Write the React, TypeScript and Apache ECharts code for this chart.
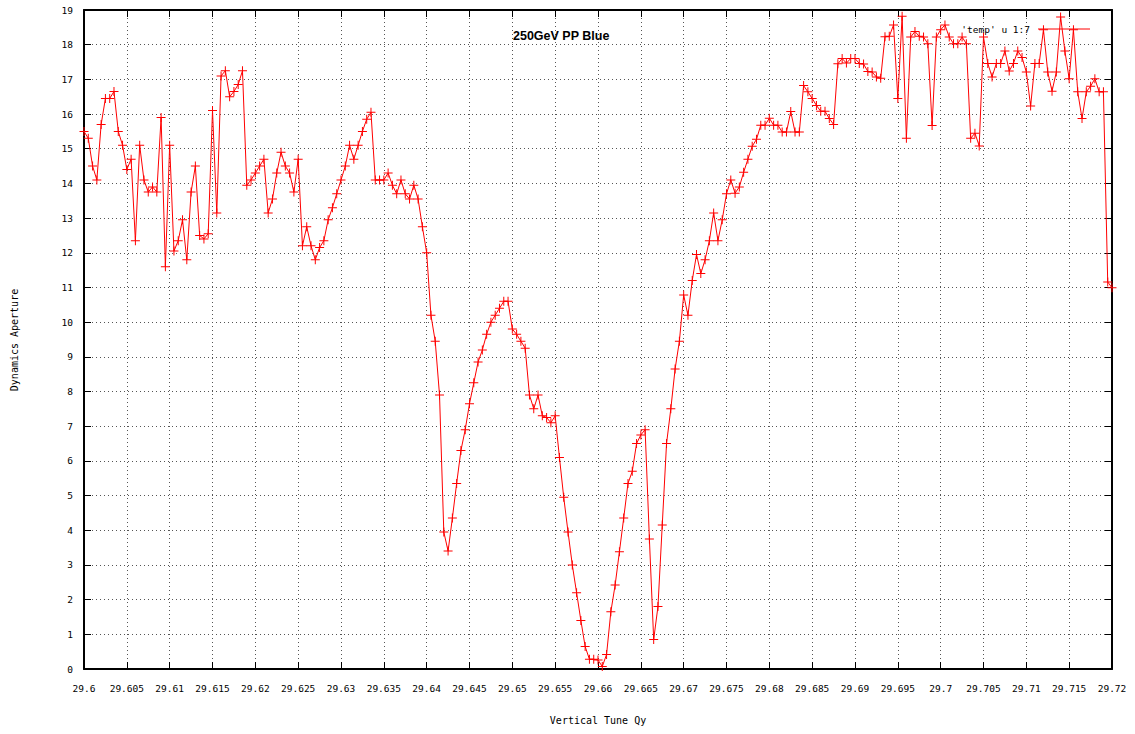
import React, { useEffect, useRef } from "react";
import * as echarts from "echarts";

const tuneStart = 29.6;
const tuneStep = 0.0005;
const xTickInterval = 0.005;
const yTickInterval = 1;

// Dynamics aperture values, one per tune step from 29.6 to 29.72
const aperture = [
  15.5, 15.3, 14.5, 14.1, 15.7, 16.45, 16.45, 16.65, 15.5, 15.1,
  14.4, 14.7, 12.35, 15.1, 14.1, 13.75, 13.9, 13.75, 15.9, 11.6,
  15.1, 12.05, 12.35, 12.95, 11.8, 13.75, 14.5, 12.5, 12.4, 12.55,
  16.1, 13.15, 17.1, 17.25, 16.5, 16.65, 16.85, 17.25, 13.95, 14.1,
  14.3, 14.5, 14.7, 13.15, 13.55, 14.3, 14.9, 14.5, 14.3, 13.75,
  14.7, 12.2, 12.75, 12.2, 11.8, 12.15, 12.35, 12.95, 13.3, 13.7,
  14.1, 14.5, 15.1, 14.7, 15.1, 15.5, 15.85, 16.05, 14.1, 14.1,
  14.1, 14.3, 13.95, 13.7, 14.1, 13.7, 13.55, 13.95, 13.55, 12.75,
  12.0, 10.2, 9.45, 7.9, 3.95, 3.4, 4.35, 5.35, 6.3, 6.9,
  7.65, 8.25, 8.85, 9.2, 9.65, 10.0, 10.2, 10.4, 10.6, 10.6,
  9.8, 9.65, 9.45, 9.25, 7.9, 7.5, 7.9, 7.3, 7.25, 7.1,
  7.3, 6.1, 4.95, 3.95, 3.0, 2.2, 1.4, 0.65, 0.28, 0.28,
  0.26, 0.07, 0.42, 1.65, 2.42, 3.38, 4.35, 5.35, 5.7, 6.5,
  6.75, 6.9, 3.75, 0.85, 1.8, 4.15, 6.5, 7.5, 8.65, 9.45,
  10.78, 10.2, 11.2, 11.95, 11.4, 11.8, 12.35, 13.15, 12.35, 12.95,
  13.7, 14.1, 13.72, 13.9, 14.32, 14.7, 15.07, 15.27, 15.68, 15.68,
  15.88, 15.68, 15.68, 15.48, 15.48, 16.07, 15.48, 15.48, 16.82, 16.64,
  16.45, 16.25, 16.08, 16.08, 15.87, 15.7, 17.45, 17.6, 17.47, 17.6,
  17.6, 17.46, 17.44, 17.23, 17.21, 17.07, 17.03, 18.23, 18.24, 18.57,
  16.45, 18.82, 15.3, 18.22, 18.38, 18.24, 18.22, 18.03, 15.67, 18.22,
  18.43, 18.57, 18.22, 18.03, 18.03, 18.22, 18.03, 15.3, 15.45, 15.08,
  18.22, 17.46, 17.07, 17.46, 17.46, 17.82, 17.24, 17.46, 17.82, 17.63,
  17.21, 16.23, 17.46, 17.46, 18.43, 17.21, 16.66, 17.21, 18.8, 17.82,
  17.02, 18.43, 16.64, 15.87, 16.64, 16.8, 17.02, 16.64, 16.64, 11.16,
  10.99,
];

const chartTitle = "250GeV PP Blue";
const legendLabel = "'temp' u 1:7";
const xTitle = "Vertical Tune Qy";
const yTitle = "Dynamics Aperture";

const MONO = "'DejaVu Sans Mono', 'Liberation Mono', monospace";
const PLUS = "path://M4,0H5V4H9V5H5V9H4V5H0V4H4Z";

export default function App() {
  const ref = useRef<HTMLDivElement>(null);

  useEffect(() => {
    if (!ref.current) return;
    const chart = echarts.init(ref.current, undefined, { renderer: "svg" });
    const data = aperture.map((v, i) => [tuneStart + i * tuneStep, v]);
    const fmtX = (v: number) => String(+v.toFixed(3));
    const axisLine = { show: true, onZero: false, lineStyle: { color: "#000", width: 2 } };
    const tick = { show: true, inside: true, length: 7, lineStyle: { color: "#000", width: 1 } };
    const split = { show: true, lineStyle: { color: "#555", width: 1, type: [1, 3] as any } };

    chart.setOption({
      animation: false,
      backgroundColor: "#fff",
      grid: { left: 84, right: 23, top: 10, bottom: 65, show: false },
      xAxis: [
        {
          type: "value",
          min: 29.6,
          max: 29.72,
          interval: xTickInterval,
          position: "bottom",
          axisLine,
          axisTick: tick,
          splitLine: split,
          axisLabel: {
            margin: 14,
            color: "#000",
            fontFamily: MONO,
            fontSize: 9.5,
            formatter: fmtX,
          },
        },
        {
          type: "value",
          min: 29.6,
          max: 29.72,
          interval: xTickInterval,
          position: "top",
          axisLine,
          axisTick: tick,
          splitLine: { show: false },
          axisLabel: { show: false },
        },
      ],
      yAxis: [
        {
          type: "value",
          min: 0,
          max: 19,
          interval: yTickInterval,
          position: "left",
          axisLine,
          axisTick: tick,
          splitLine: split,
          axisLabel: { margin: 11, color: "#000", fontFamily: MONO, fontSize: 9.5 },
        },
        {
          type: "value",
          min: 0,
          max: 19,
          interval: yTickInterval,
          position: "right",
          axisLine,
          axisTick: tick,
          splitLine: { show: false },
          axisLabel: { show: false },
        },
      ],
      series: [
        {
          type: "line",
          name: legendLabel,
          xAxisIndex: 0,
          yAxisIndex: 0,
          data,
          symbol: PLUS,
          symbolSize: 9,
          showSymbol: true,
          lineStyle: { color: "#ff0000", width: 1 },
          itemStyle: { color: "#ff0000" },
          z: 5,
        },
      ],
      graphic: [
        {
          type: "text",
          left: 513,
          top: 29,
          style: {
            text: chartTitle,
            font: "bold 12.5px 'Liberation Sans', Arial, sans-serif",
            fill: "#000",
          },
          z: 10,
        },
        {
          type: "text",
          x: 1030,
          y: 29,
          style: {
            text: legendLabel,
            font: `9.5px ${MONO}`,
            fill: "#000",
            align: "right",
            verticalAlign: "middle",
          },
          z: 10,
        },
        {
          type: "line",
          shape: { x1: 1038, y1: 29, x2: 1090, y2: 29 },
          style: { stroke: "#ff0000", lineWidth: 1 },
          z: 10,
        },
        {
          type: "text",
          x: 598,
          y: 720,
          style: {
            text: xTitle,
            font: `10px ${MONO}`,
            fill: "#000",
            align: "center",
            verticalAlign: "middle",
          },
        },
        {
          type: "text",
          x: 14,
          y: 340,
          rotation: Math.PI / 2,
          style: {
            text: yTitle,
            font: `10px ${MONO}`,
            fill: "#000",
            align: "center",
            verticalAlign: "middle",
          },
        },
      ],
    });
    return () => chart.dispose();
  }, []);

  return (
    <div
      ref={ref}
      style={{ position: "absolute", left: 0, top: 0, width: 1135, height: 734 }}
    />
  );
}
